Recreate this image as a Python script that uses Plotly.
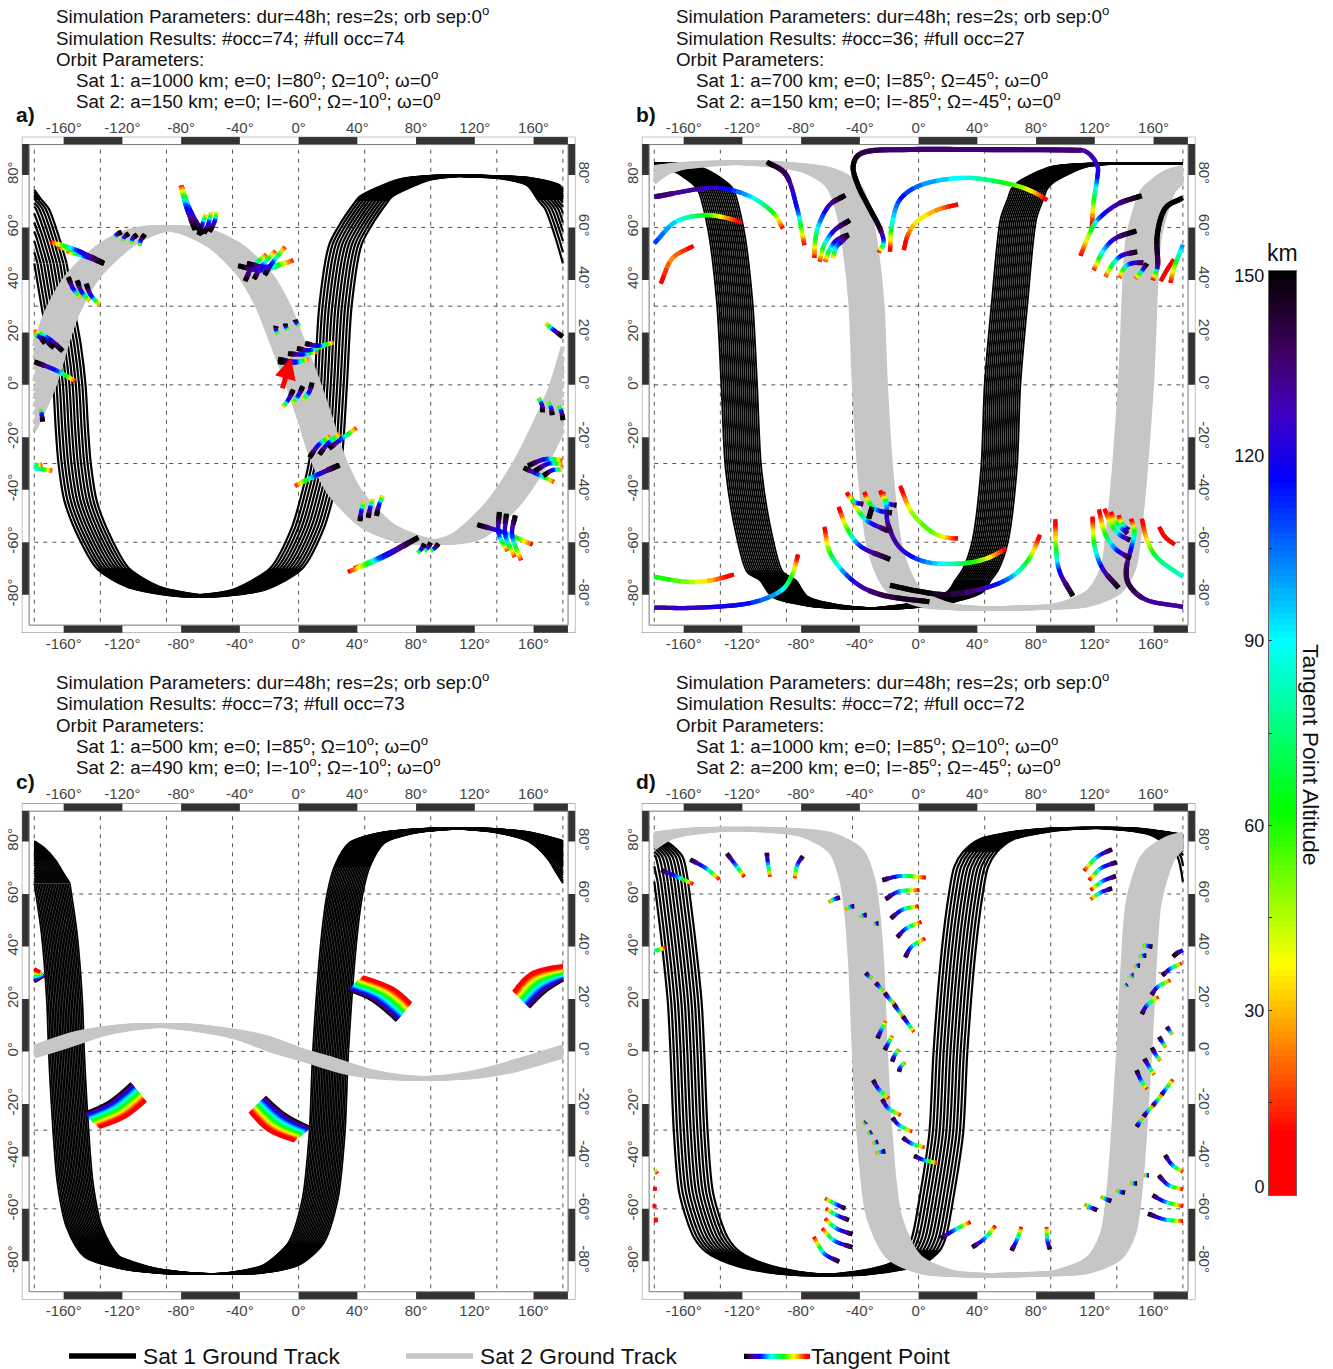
import numpy as np
import plotly.graph_objects as go

W, H = 1333, 1369
FONT = "Liberation Sans"

# ---------- altitude colour scale ----------
ALT_STOPS = [0, 10, 37.5, 62.5, 90, 116, 127, 137, 150]
ALT_R = [255, 255, 255, 0, 0, 0, 64, 64, 0]
ALT_G = [0, 0, 255, 255, 255, 0, 0, 0, 0]
ALT_B = [0, 0, 0, 0, 255, 255, 192, 96, 0]
CBAR_LEVELS = list(range(0, 151))
CBAR_TICKS = [1.4, 30, 60, 90, 120, 149.2]
CBAR_TEXT = ["0", "30", "60", "90", "120", "150"]
CBAR_MINOR = [15, 30, 45, 60, 75, 90, 105, 120, 135]
SWATCH_LEVELS = [150, 140, 130, 120, 110, 100, 90, 80, 70, 60, 50, 40, 30, 20, 10, 0]

# ---------- map furniture ----------
LON_TICKS = [-160, -120, -80, -40, 0, 40, 80, 120, 160]
LAT_TICKS = [-80, -60, -40, -20, 0, 20, 40, 60, 80]
LON_GRID = [-180, -135, -90, -45, 0, 45, 90, 135, 180]
LAT_GRID = [-60, -30, 0, 30, 60]
TOP_DARK = [(-160, -120), (-80, -40), (0, 40), (80, 120), (160, 183.4)]
SIDE_DARK = [(80, 91.8), (40, 60), (0, 20), (-40, -20), (-80, -60)]

# ---------- panel a ----------
A_SAT1_LON = [-180, -175.1, -170.3, -167.1, -165.4, -163.5, -159.3, -148.4, -137.4, -116.8, -92.4, -79.1, -63.2, -43.8, -19.5, -4.9, 3.6, 7.3, 10.9, 14.1, 20.7, 26.8, 38.9, 41.4, 68.1, 90, 99.7, 111.9, 134, 155.7, 163, 167.8, 175.1, 180]
A_SAT1_LAT = [46.3, 30, 15.1, 0, -16.6, -30.1, -44.6, -59.8, -70, -77, -79.9, -80.6, -79.9, -77.9, -70, -54.8, -38.2, -28.7, 0, 30, 53.2, 60, 70, 71.7, 78.3, 79.7, 79.9, 79.5, 79, 76.1, 70.5, 67.2, 55.8, 46.3]
A_SAT1_SHIFTS = [0, 2.2, 4.4, 6.6, 8.8, 11, 13.2, 15.4, 17.6, 19.8, 22]
A_SAT2_LON = [-180, -172.7, -158.1, -136.2, -119.2, -102.2, -80.3, -60.8, -41.4, -29.2, -19.5, -8.5, 0, 7.3, 19.5, 41.4, 63.2, 82.7, 102.2, 126.5, 145.9, 158.1, 170.3, 180]
A_SAT2_LAT = [16.4, 27.8, 41.8, 53.2, 58.1, 60, 58.1, 52.6, 41.8, 30, 16.4, 0, -14.1, -26.8, -40.8, -53.5, -58.8, -60.1, -57.9, -45.9, -30, -16.6, -1.4, 16.4]
A_RAMP = [150, 108, 0]
A_ARCS = [
    ([-132.5, -150.8, -169], [46.3, 51.3, 54.5]), ([-132.5, -147.2, -164.2], [46.3, 50.1, 52.7]),
    ([-132.5, -144.7, -158.1], [46.3, 48.8, 51]), ([-156.9, -153.6, -148.3], [41.2, 36.7, 33.3]),
    ([-150.8, -147.9, -142.3], [39.9, 35.5, 32]), ([-144.7, -141.5, -135.7], [38.6, 34.2, 30.6]),
    ([-120.4, -124, -125.2], [58.3, 57.3, 56.2]), ([-115.5, -118.7, -119.7], [57.7, 56.4, 54.9]),
    ([-109.9, -113.1, -113.8], [57.3, 55.8, 54]), ([-104.6, -107.5, -108.2], [57.4, 55.2, 53]),
    ([-70.5, -76.6, -80.3], [59, 67.9, 75.9]), ([-65.7, -74.2, -79.5], [57.7, 67.2, 75.5]),
    ([-65.7, -75.4, -79.8], [57.1, 67.2, 76.1]), ([-68.1, -65.7, -63.2], [57.1, 60.9, 64.9]),
    ([-64.4, -61.3, -59.6], [57.7, 61.5, 65.7]), ([-60.8, -57.2, -55.9], [58.3, 62.2, 65.7]),
    ([-36.5, -31.6, -21.9], [39.5, 44.9, 49.7]), ([-30.4, -25.5, -15.8], [40.3, 44.9, 51.1]),
    ([-23.1, -18.2, -9.2], [41.8, 46.3, 52.6]), ([-41.3, -24.3, -3.6], [45.4, 43.7, 47.5]),
    ([-35.3, -21.9, -6.1], [46.3, 45, 46.9]), ([-15.3, -15.6, -14.1], [22.5, 21.2, 19.4]),
    ([-9, -8.8, -7.3], [23.4, 22.2, 21]), ([-2.4, -1.7, 0.5], [24.9, 23.8, 22.5]),
    ([-14.1, -2.4, 6.8], [9.8, 8.8, 9.8]), ([-14.1, -2.4, 3.6], [8.8, 8.5, 9.4]),
    ([-7.3, 2.4, 12.2], [11.9, 11.6, 12.6]), ([-1.2, 7.3, 18.2], [13.9, 13.2, 15.1]),
    ([4.4, 13.4, 23.8], [15.8, 14.9, 16.1]), ([-3.6, -6.8, -10.7], [-1.8, -5.5, -8.4]),
    ([2.9, 0, -4.1], [-0.5, -3.9, -7.1]), ([9.2, 7.3, 2.9], [0.9, -2.7, -5.8]),
    ([7.3, 13.4, 21.4], [-27.8, -23, -19.6]), ([14.1, 19.9, 28], [-26.6, -22.4, -18.6]),
    ([20.7, 28, 39.4], [-24.3, -21.1, -16.4]), ([27.2, 12.2, -2.4], [-30.6, -34.4, -38.5]),
    ([28, 13.4, 2.4], [-30.6, -34.2, -37]), ([41.8, 42.6, 44.3], [-52, -48.4, -44.6]),
    ([47.4, 48.6, 50.6], [-50.7, -47.2, -43.6]), ([53, 54.7, 57.2], [-50, -45.9, -42.3]),
    ([81.5, 58.4, 33.6], [-58.2, -65.6, -71.3]), ([81.5, 55.9, 37.7], [-58.2, -65.6, -70]),
    ([85.8, 83.9, 81], [-60.5, -62.4, -64.1]), ([90, 88.3, 85.8], [-60.1, -61.8, -63.4]),
    ([95.3, 92.9, 90], [-60.5, -62.1, -63.4]), ([121.6, 138.6, 159.3], [-53.3, -56.1, -60.9]),
    ([136.7, 136.2, 142.3], [-48.4, -56.7, -63.3]), ([141.5, 140.8, 147.1], [-49.1, -57.3, -65.6]),
    ([147.6, 145.4, 151.5], [-49.7, -57.3, -66.9]), ([156.1, 167.8, 179.5], [-30.9, -28.3, -28.7]),
    ([160.5, 170.2, 179.5], [-32.9, -30, -30.4]), ([166.6, 172.7, 179.5], [-34.7, -32.5, -32.3]),
    ([153.2, 161.7, 173.9], [-31.6, -33.8, -37]), ([180, 173.9, 168.3], [18.3, 20.8, 23.4]),
    ([166.1, 165.9, 163.4], [-10.5, -7.8, -5]), ([172.7, 172.2, 170.2], [-11.6, -9.3, -6.5]),
    ([180, 179.2, 177], [-13.5, -10.5, -8]), ([-160.5, -170.2, -180], [12.8, 17.7, 20.5]),
    ([-166.6, -173.9, -180], [14.1, 17.7, 19.6]), ([-172.7, -176.3, -180], [15.8, 18.3, 18.9]),
    ([-180, -165.4, -152], [8.8, 5.6, 1.4]), ([-174.3, -174.8, -175.6], [-14.1, -11.6, -9.3]),
    ([-180, -173.9, -167.8], [-31.9, -32.2, -32.7], [90, 50, 0]),
    ([-180, -177.6, -174.6], [-30.4, -30.6, -30.4], [80, 40, 0]),
]
ARROW_TIP = (-5.1, 10.3)
ARROW_TAIL = (-11.3, -1.9)

# ---------- panel b ----------
B_SAT1_LON = [-180, -167.8, -156.9, -150.8, -143.5, -137.4, -134.3, -131.4, -124.1, -116.8, -108, -99.7, -75.4, -38.9, 0, 19.5, 25, 30.4, 36.5, 42.6, 45, 49.9, 55.9, 60.8, 63, 68.1, 90, 119.2, 150.8, 180]
B_SAT1_LAT = [84.2, 81.8, 78, 74.8, 59.6, 31.6, 0, -31.9, -57.3, -71.3, -74.5, -80.8, -84.2, -85.3, -82.7, -78.9, -74.5, -70, -59.8, -31.9, 0, 31.6, 63.4, 71, 74.5, 77.4, 83.1, 84.4, 84.4, 84.2]
B_SAT1_SHIFTS = [0, 1.35, 2.7, 4.05, 5.4, 6.75, 8.1, 9.45, 10.8, 12.15, 13.5, 14.85, 16.2, 17.55, 18.9, 20.25, 21.6, 22.95, 24.3]
B_SAT2_LON = [-180, -153.2, -116.8, -80.3, -63.2, -55.9, -51.1, -47.4, -45, -41.4, -34.1, -21.9, 0, 29.2, 63.2, 92.4, 114.3, 124.1, 128.9, 136.2, 141.1, 145.9, 150.8, 155.7, 167.8, 180]
B_SAT2_LAT = [83.1, 84.5, 84.4, 81.8, 76.1, 65.9, 50.7, 31.6, 0, -31.9, -63.7, -78.3, -84, -85.3, -85, -84, -78.9, -70, -51, 0, 54.5, 65.9, 73.6, 76.5, 81.2, 83.1]
B_ARCS = [
    ([-180, -141, -116.7, -99.7, -92.4], [71.7, 75.1, 72.3, 66, 59.6], [135, 125, 95, 60, 5]),
    ([-180, -165.4, -146, -131.3, -120.4], [53.9, 62.2, 64.7, 63.7, 61.9], [110, 90, 60, 25, 0]),
    ([-153.2, -167.8, -175.6], [53, 48.2, 38.6], [8, 25, 3]),
    ([-103.4, -90, -82.7, -80.3, -77.8], [85, 79.9, 67.2, 60.9, 53.3], [150, 135, 110, 60, 0]),
    ([-49.9, -60.8, -68.1, -70.5, -71], [72.3, 68.5, 60.9, 54.5, 48.4], [150, 125, 90, 50, 0]),
    ([-46.7, -57.2, -64.4, -67.4], [62.8, 59, 53.3, 46.9], [150, 120, 70, 0]),
    ([-47.4, -55.9, -60.8, -63.7], [57.3, 55.2, 51.3, 46.9], [145, 120, 70, 0]),
    ([-48.2, -51.1, -55.9, -58.4], [57.1, 55.2, 52.6, 48.4], [135, 125, 90, 0]),
    ([118, 119.2, 121.6, 121.6, 114.3, 102.1, 41.3, -7.3, -36.5, -44.5, -41.3, -34, -26.8, -23.8, -27.2],
     [60.2, 69.8, 78.7, 83.8, 88.8, 89.5, 89.7, 89.7, 88.8, 83.8, 76.1, 67.9, 60.2, 54.5, 50.5],
     [0, 60, 115, 125, 130, 135, 135, 135, 140, 150, 150, 150, 145, 100, 0]),
    ([-19.5, -18.2, -12.2, 4.9, 34, 63.2, 77.8, 87.6], [50.7, 60.9, 71, 76.8, 78.9, 76.4, 73.6, 70.4], [0, 85, 115, 100, 85, 55, 30, 0]),
    ([-10.2, -7.3, -1.2, 12.2, 26.8], [51.3, 57.1, 62.2, 66.6, 68.8], [0, 20, 38, 25, 0]),
    ([152, 136.2, 124, 118, 110.2], [72.1, 69.1, 64.1, 59.6, 49.2], [150, 130, 110, 60, 0]),
    ([148.4, 133.8, 125.3, 119.2], [58.7, 55.8, 50.7, 43.7], [150, 125, 85, 0]),
    ([148.9, 138.6, 132.5, 127.2], [50.7, 49.4, 46.3, 41.2], [145, 115, 70, 0]),
    ([153.2, 144.7, 139.8, 136.7], [46.6, 46.3, 44.4, 40.8], [140, 110, 60, 0]),
    ([155.6, 153.2, 150.8, 147.4], [46.3, 44.4, 42.5, 40.5], [145, 110, 50, 0]),
    ([180, 167.8, 162.5, 162.9, 161.7, 159.3], [71.3, 67.2, 57.1, 46.3, 43.1, 39.9], [150, 150, 150, 135, 60, 0]),
    ([173.9, 169, 164.9], [47.9, 43.7, 39.5], [5, 0, 0]),
    ([180, 176.3, 173.9, 171.5], [53.5, 48.2, 44.4, 38.9], [100, 70, 40, 0]),
    ([-49.1, -46.2, -42.6, -37.7], [-41, -43.3, -44.9, -45.5], [0, 50, 110, 150]),
    ([-46.2, -41.3, -34, -20.7], [-42.7, -47.8, -52.2, -55.7], [0, 50, 110, 150]),
    ([-37, -34, -27.9, -18.2], [-40.8, -44.6, -47.8, -48.8], [0, 60, 110, 150]),
    ([-31.6, -34], [-46.5, -51], [150, 150]),
    ([-26.3, -23.1, -19.5, -15.1], [-40.2, -44, -45.5, -45.9], [0, 60, 120, 150]),
    ([-24.3, -21.9, -20.7, -12.2, 4.9, 29.2, 46.2, 59.6], [-40.8, -45.9, -53.5, -62.4, -67.5, -68.1, -66.2, -62.4], [0, 100, 135, 125, 100, 70, 40, 0]),
    ([-12.6, -4.9, 7.3, 17, 26.8], [-38.5, -48.4, -55.4, -58, -58.6], [0, 50, 55, 35, 0]),
    ([-54.5, -48.6, -38.9, -19.5], [-46.5, -54.8, -61.8, -66.5], [0, 60, 120, 150]),
    ([-64.2, -59.6, -43.8, -24.3, 7.3], [-54.1, -64.9, -75.1, -80.2, -82.7], [0, 70, 125, 140, 150]),
    ([82.7, 75.4, 63.2, 43.8, 19.5, 0, -19.5], [-57.1, -66.2, -73.2, -77.7, -79.9, -78.7, -76.4], [0, 60, 100, 130, 145, 150, 150]),
    ([-82, -86.3, -94.8, -116.7, -153.2, -180], [-64.6, -72.6, -78.9, -83.4, -85, -84.9], [0, 60, 95, 115, 125, 130]),
    ([-125.7, -141, -158.1, -180], [-72.3, -74.5, -75.1, -73.2], [0, 30, 50, 65]),
    ([93.1, 93.6, 96.1, 105.1], [-51.2, -62.4, -71.3, -80.5], [0, 65, 120, 150]),
    ([118.4, 119.7, 125.2, 136.2], [-50.1, -61.1, -70, -77.4], [0, 75, 125, 150]),
    ([122.8, 126.5, 133.8, 144.2], [-47.4, -56.1, -62.4, -66.2], [0, 60, 110, 150]),
    ([126.5, 131.4, 137.4, 144], [-47.2, -53.5, -57.3, -59.2], [0, 60, 110, 150]),
    ([130.8, 135, 142.3], [-48.4, -52.9, -56.7], [0, 70, 150]),
    ([136.2, 138.6, 143], [-49.7, -52.9, -55.4], [0, 70, 150]),
    ([144.7, 147.1, 144.7, 141.5, 143.5, 155.6, 180], [-51, -56, -62.4, -70, -76.4, -82.1, -84.6], [0, 70, 120, 140, 140, 130, 130]),
    ([152, 155.6, 162.9, 180], [-51, -59.2, -66.2, -73.2], [0, 40, 75, 85]),
    ([163.7, 167.8, 174.4], [-54.1, -58, -60.9], [0, 5, 0]),
]

# ---------- panel c ----------
C_SAT1_LON = [-180, -175.1, -171.5, -170.2, -167.8, -164.2, -158.1, -145.9, -121.6, -92.4, -73, -48.6, -24.3, -7.3, 2.4, 7.3, 9.7, 15.8, 19.5, 24.3, 34, 53.5, 90, 102.1, 133.8, 155.6, 163, 170.2, 175.1, 180]
C_SAT1_LAT = [64.1, 45, 19.6, 0, -24.9, -50.3, -66.9, -78.3, -82.7, -84.6, -84.9, -84.4, -81.5, -73.2, -56.7, -31.3, 0, 45, 60.2, 70.4, 79.3, 83.1, 85, 85, 83.5, 80.3, 77.4, 73, 68.5, 64.1]
C_SAT1_SHIFTS = [0, 1.1, 2.2, 3.3, 4.4, 5.5, 6.6, 7.7, 8.8, 9.9, 11, 12.1, 13.2, 14.3, 15.4, 16.5, 17.6, 18.7, 19.8, 20.9, 22, 23.1, 24.2]
C_SAT2_LON = [-180, -153.2, -128.9, -103.4, -75.4, -43.8, -19.5, 0, 29.2, 53.5, 76.6, 102.1, 126.5, 150.8, 180]
C_SAT2_LAT = [2, 6.9, 9.2, 10, 8.6, 5.3, 0.3, -2.8, -7.8, -9.9, -10.3, -9.4, -6.9, -3, 2]
# (black edge lon, black edge lat, red edge lon, red edge lat)
C_RIBBONS = [
    ([33.6, 49.9, 66.9], [23.4, 19.6, 11.7], [43.8, 64.4, 76.6], [28.5, 24, 18.3]),
    ([156.9, 167.8, 180], [16.8, 22.8, 27.2], [146.3, 158.1, 180], [22.8, 29.7, 32.7]),
    ([-180, -176.6, -173.2], [26.6, 27.7, 28.9], [-180, -178.2, -176.3], [31.6, 31, 30.4]),
    ([-146, -128.9, -113.8], [-23.6, -19.2, -12.2], [-135.7, -117.9, -104.1], [-29, -24.9, -18.8]),
    ([-22.9, -8.5, 7.8], [-17.3, -24.3, -29], [-33.3, -20.7, -2.9], [-23, -30, -34.1]),
]
RIBBON_LEVELS = [150, 144, 138, 132, 126, 120, 114, 108, 102, 96, 90, 84, 78, 72, 66, 60, 54, 48, 42, 36, 30, 24, 18, 12, 6, 0]

# ---------- panel d ----------
D_SAT1_LON = [-180, -175.1, -170.7, -169, -166.6, -162.9, -153.2, -144.7, -128.9, -104.6, -73, -43.8, -19.5, -8.5, -4.4, 1.2, 7.3, 10.2, 15.8, 20.7, 24.3, 30.4, 41.3, 65.7, 90, 126.5, 158.1, 170.2, 176.3, 180]
D_SAT1_LAT = [64.7, 42.5, 18.3, 0, -31.3, -54.1, -70.7, -76.4, -80.8, -84, -85.3, -84, -80.8, -75.8, -70.7, -54.1, -31.3, 0, 38.6, 60.2, 70.4, 76.1, 80.8, 83.8, 85, 85, 82.5, 78, 74.2, 64.7]
D_SAT1_SHIFTS = [0, 2.3, 4.6, 6.9, 9.2, 11.5, 13.8, 16.1, 18.4, 20.7, 23]
D_SAT2_LON = [-180, -153.2, -116.8, -80.3, -60.8, -53.5, -49.9, -47.4, -45, -41.8, -35.3, -21.9, 0, 29.2, 63.2, 92.4, 114.3, 124, 128.9, 135, 141, 145.9, 150.8, 155.6, 167.8, 180]
D_SAT2_LAT = [83.1, 84.6, 84.6, 82.5, 76.1, 65.3, 51.3, 32.3, 0, -31.3, -63, -78.3, -84, -85.3, -85, -84, -78.9, -69.4, -50.3, 0, 55.2, 66.6, 73.6, 76.8, 81.2, 83.1]
SAT2_SHIFTS = [1, 3.4, 5.8, 8.2, 10.6, 13, 15.4, 17.8, 20.2, 22.6]
D_RAMP = [145, 100, 0]
D_ARCS = [
    ([-175.4, -164.4, -153.5], [69.1, 66.6, 63.8]), ([-155.6, -144.7, -135.7], [73.2, 69.8, 65.6]),
    ([-130.6, -124.5, -118.7], [75.5, 71, 66.6]), ([-103.4, -102.6, -101.2], [75.8, 71.7, 66.6]),
    ([-78.8, -82.7, -84.4], [74.5, 71, 66]), ([-24.8, -12.2, 4.9], [65.3, 66.9, 66.3]),
    ([-22.6, -13.4, 0.5], [58, 61, 61.5]), ([-19, -10.9, 0], [50.7, 54.1, 55.4]),
    ([-14.6, -8.5, 1.9], [43.5, 46.9, 49.4]), ([-9.2, -4.9, 4.4], [35.8, 39.9, 43.1]),
    ([-53.5, -57.2, -61.3], [58.7, 58.1, 56.9]), ([-43.8, -46.2, -49.9], [55.4, 55.2, 54.1]),
    ([-35.3, -37.7, -40.1], [52, 51.9, 51.3]), ([-27.2, -29.2, -30.4], [48.8, 48.7, 48.2]),
    ([-180, -176.1, -172.2], [38.4, 38.9, 39.7], [85, 45, 0]),
    ([-36, -34, -31.6], [30, 28.7, 27.8]), ([-29.2, -26.8, -23.8], [26.2, 24.7, 23.1]),
    ([-23.1, -20.2, -16.5], [22.4, 20.2, 18.3]), ([-17, -14.1, -10.9], [18.3, 15.8, 13.5]),
    ([-10.9, -7.3, -3.2], [13.5, 10.7, 7.5]), ([-28, -25.5, -22.4], [5, 8.1, 11.6]),
    ([-23.1, -20.7, -17.8], [0.5, 3.1, 6]), ([-18, -16.3, -13.4], [-3.9, -1.4, 0.9]),
    ([-13.4, -12.2, -9], [-7.8, -5.8, -4.2]), ([-31.1, -26.8, -20.2], [-10.9, -14.7, -17.9]),
    ([-24.8, -20.7, -12.2], [-18.2, -21.7, -24.3]), ([-17.9, -13.4, -4.4], [-25.2, -28.1, -30.6]),
    ([-10.9, -4.9, 4.1], [-32.8, -35.1, -36.6]), ([-3.2, 3.6, 12.6], [-39.8, -41.4, -42.5]),
    ([-35.8, -36.5, -37.7], [-26.8, -27.2, -27.7]), ([-31.9, -33, -34.8], [-30.6, -31, -31.3]),
    ([-27.5, -29.2, -31.6], [-34.4, -34.7, -35.1]), ([-22.6, -25.5, -29.2], [-38, -38.3, -38.6]),
    ([-179.5, -178.7, -177.9], [-45, -45.9, -46.5], [50, 25, 0]),
    ([-179.5, -179.5, -179.7], [-51.6, -52.2, -53.1], [5, 0, 0]),
    ([-179.7, -180, -179.7], [-58.2, -59, -59.7], [5, 0, 0]),
    ([-179, -179, -178.8], [-63.3, -64.3, -65.1], [5, 0, 0]),
    ([-49.9, -56.4, -63.7], [-59.9, -58.2, -56]), ([-47.4, -55.9, -63.2], [-64.3, -62.4, -59.9]),
    ([-45, -55.9, -63.7], [-69.7, -67.5, -63.7]), ([-45, -57.2, -65.7], [-74.7, -72.2, -67.5]),
    ([-54, -64.4, -71.3], [-80.2, -77, -70.7]), ([15.1, 24.3, 35.3], [-71.3, -68.1, -65]),
    ([36.5, 45, 52.3], [-74.7, -71.3, -66.5]), ([63.2, 66.9, 70], [-76, -71.9, -66.9]),
    ([89.5, 87.6, 87.1], [-75.5, -71.9, -66.9]), ([131.8, 121.6, 112.6], [77.1, 74.2, 68.9]),
    ([135, 124, 116], [72.2, 69.8, 65.3]), ([134.5, 125.2, 117.2], [66.9, 64.9, 61.5]),
    ([131.8, 124, 117.2], [62.2, 60.6, 58]), ([159.3, 155.6, 152.7], [39.9, 40.3, 40.4]),
    ([155.1, 152.7, 150.2], [36.5, 36.5, 36.1]), ([150.8, 148.8, 147.1], [32.7, 32.7, 32]),
    ([146.4, 145.2, 144], [29.1, 29, 28.2]), ([142.3, 141.5, 140.6], [25.5, 25.2, 24.7]),
    ([173.2, 176.3, 180], [36.1, 37.6, 38.6], [150, 135, 110]),
    ([165.9, 171.5, 179.2], [28.9, 31.6, 33.6]), ([158.6, 162.9, 171.5], [21.5, 24.7, 27.2]),
    ([152, 155.6, 163.4], [14.2, 17.7, 20.8]), ([169, 170.9, 172.7], [9.4, 7.9, 6.5]),
    ([163.7, 166.1, 168.3], [5.6, 3.4, 1.5]), ([158.8, 161.7, 164.6], [1.5, -1.4, -3.6]),
    ([153.7, 156.9, 160.5], [-2.7, -5.8, -8.9]), ([148.4, 151.3, 155.6], [-7.1, -10.9, -14.4]),
    ([148.4, 150.3, 152.5], [-28.7, -27.2, -25.5]), ([153.2, 155.6, 159.5], [-24.9, -23, -20.8]),
    ([159.3, 161.7, 165.4], [-20.8, -19.2, -16.6]), ([165.4, 167.8, 173.2], [-16.6, -14.7, -10.7]),
    ([167.8, 172.7, 180], [-39.5, -43.3, -45.9]), ([163.4, 170.2, 180], [-47.2, -51, -52.6]),
    ([159.3, 167.8, 180], [-54.8, -57.3, -59]), ([156.1, 167.8, 180], [-61.8, -64.1, -64.6]),
    ([156.9, 155.6, 153.7], [-47.2, -47.2, -47.2]), ([148.8, 146.6, 144], [-50.3, -50.3, -50.3]),
    ([140.6, 137.4, 134.5], [-53.9, -53.5, -52.9]), ([131.3, 127.7, 124], [-57.1, -56.3, -55.4]),
    ([121.6, 117.2, 113], [-60.5, -59.5, -58.3]),
]

# ---------- texts ----------
D = "<sup>o</sup>"
PANEL_TEXT = {
    "a": ["Simulation Parameters: dur=48h; res=2s; orb sep:0" + D, "Simulation Results: #occ=74; #full occ=74", "Orbit Parameters:",
          f"Sat 1: a=1000 km; e=0; I=80{D}; Ω=10{D}; ω=0{D}", f"Sat 2: a=150 km; e=0; I=-60{D}; Ω=-10{D}; ω=0{D}"],
    "b": ["Simulation Parameters: dur=48h; res=2s; orb sep:0" + D, "Simulation Results: #occ=36; #full occ=27", "Orbit Parameters:",
          f"Sat 1: a=700 km; e=0; I=85{D}; Ω=45{D}; ω=0{D}", f"Sat 2: a=150 km; e=0; I=-85{D}; Ω=-45{D}; ω=0{D}"],
    "c": ["Simulation Parameters: dur=48h; res=2s; orb sep:0" + D, "Simulation Results: #occ=73; #full occ=73", "Orbit Parameters:",
          f"Sat 1: a=500 km; e=0; I=85{D}; Ω=10{D}; ω=0{D}", f"Sat 2: a=490 km; e=0; I=-10{D}; Ω=-10{D}; ω=0{D}"],
    "d": ["Simulation Parameters: dur=48h; res=2s; orb sep:0" + D, "Simulation Results: #occ=72; #full occ=72", "Orbit Parameters:",
          f"Sat 1: a=1000 km; e=0; I=85{D}; Ω=10{D}; ω=0{D}", f"Sat 2: a=200 km; e=0; I=-85{D}; Ω=-45{D}; ω=0{D}"],
}
LINE_Y = [15, 38, 59, 79.3, 100.3]
LEGEND_LABELS = ["Sat 1 Ground Track", "Sat 2 Ground Track", "Tangent Point"]

# ---------- layout geometry (pixels) ----------
PANELS = {
    "a": dict(x0=21.8, x1=575.4, y0=136.7, y1=633.0, n=1),
    "b": dict(x0=641.8, x1=1195.4, y0=136.7, y1=633.0, n=2),
    "c": dict(x0=21.8, x1=575.4, y0=803.3, y1=1299.6, n=3),
    "d": dict(x0=641.8, x1=1195.4, y0=803.3, y1=1299.6, n=4),
}
XR = [-188.5, 188.5]
YR = [-94.6, 94.6]


def px(x):
    return x / W


def py(y):
    return 1 - y / H


def alt_rgb(a):
    return "rgb(%d,%d,%d)" % (np.interp(a, ALT_STOPS, ALT_R), np.interp(a, ALT_STOPS, ALT_G), np.interp(a, ALT_STOPS, ALT_B))


ALT_SCALE = [[s / 150, alt_rgb(s)] for s in ALT_STOPS]


def clip_segments(lon, lat):
    """Split a longitude-shifted track at the 180 degree map edge."""
    segs, cur_x, cur_y = [], [lon[0]], [lat[0]]
    for i in range(1, len(lon)):
        if lon[i - 1] <= 180 < lon[i]:
            f = (180 - lon[i - 1]) / (lon[i] - lon[i - 1])
            edge = lat[i - 1] + f * (lat[i] - lat[i - 1])
            cur_x.append(180); cur_y.append(edge)
            segs.append((cur_x, cur_y))
            cur_x, cur_y = [-180], [edge]
        cur_x.append(lon[i] - 360 if lon[i] > 180 else lon[i])
        cur_y.append(lat[i])
    segs.append((cur_x, cur_y))
    return segs


def track_xy(lon, lat, shifts, cap=None):
    xs, ys = [], []
    for s in shifts:
        shifted = [v + s for v in lon]
        for sx, sy in clip_segments(shifted, lat):
            if cap is None:
                xs += sx + [None]; ys += sy + [None]
            else:
                run_x, run_y = [], []
                for a, b in zip(sx, sy):
                    if abs(b) >= cap:
                        run_x.append(a); run_y.append(b)
                    else:
                        if len(run_x) > 1:
                            xs += run_x + [None]; ys += run_y + [None]
                        run_x, run_y = [], []
                if len(run_x) > 1:
                    xs += run_x + [None]; ys += run_y + [None]
    return xs, ys


def smooth(vals, n):
    """Catmull-Rom pass through the read points, only to give the colour gradient room."""
    v = np.asarray(vals, float)
    if len(v) == 2:
        return np.linspace(v[0], v[1], n + 1)
    p = np.concatenate([[2 * v[0] - v[1]], v, [2 * v[-1] - v[-2]]])
    out = []
    for i in range(1, len(p) - 2):
        t = np.linspace(0, 1, n, endpoint=False)
        out.append(0.5 * (2 * p[i] + (p[i + 1] - p[i - 1]) * t + (2 * p[i - 1] - 5 * p[i] + 4 * p[i + 1] - p[i + 2]) * t ** 2
                          + (3 * p[i] - p[i - 1] - 3 * p[i + 1] + p[i + 2]) * t ** 3))
    out.append(v[-1:])
    return np.concatenate(out)


def add_arcs(fig, arcs, ramp, xa, ya, width, dark_on_top=True):
    bins = {}
    step = 5
    for arc in arcs:
        lons, lats = arc[0], arc[1]
        alts = arc[2] if len(arc) > 2 else ramp
        span = sum(np.hypot((lons[i + 1] - lons[i]) * 1.47, (lats[i + 1] - lats[i]) * 2.62) for i in range(len(lons) - 1))
        n = int(max(4, span / (len(lons) - 1) / 1.6))
        sx, sy = smooth(lons, n), smooth(lats, n)
        t = np.arange(len(alts)) * n
        sa = np.interp(np.arange(len(sx)), t, alts)
        sx = np.clip(sx, -180, 180)
        for i in range(len(sx) - 1):
            k = int(round(sa[i] / step)) * step
            j = min(i + 2, len(sx) - 1)
            b = bins.setdefault(k, ([], []))
            b[0].extend([sx[i], sx[i + 1], sx[j], None])
            b[1].extend([sy[i], sy[i + 1], sy[j], None])
    for k in sorted(bins, reverse=not dark_on_top):
        w = width + (0.8 if k >= 135 else 0)
        fig.add_trace(go.Scatter(x=bins[k][0], y=bins[k][1], mode="lines", hoverinfo="skip", showlegend=False,
                                 line=dict(color=alt_rgb(k), width=w), xaxis=xa, yaxis=ya))


def add_ribbons(fig, ribbons, xa, ya):
    for lvl in RIBBON_LEVELS:
        f = 1 - lvl / 150
        xs, ys = [], []
        for bx, by, rx, ry in ribbons:
            xs += [a + f * (b - a) for a, b in zip(bx, rx)] + [None]
            ys += [a + f * (b - a) for a, b in zip(by, ry)] + [None]
        fig.add_trace(go.Scatter(x=xs, y=ys, mode="lines", hoverinfo="skip", showlegend=False,
                                 line=dict(color=alt_rgb(lvl), width=3.2, shape="spline"), xaxis=xa, yaxis=ya))


TRACKS = {
    "a": (A_SAT1_LON, A_SAT1_LAT, A_SAT1_SHIFTS, 2.2, 70, A_SAT2_LON, A_SAT2_LAT),
    "b": (B_SAT1_LON, B_SAT1_LAT, B_SAT1_SHIFTS, 1.85, 74, B_SAT2_LON, B_SAT2_LAT),
    "c": (C_SAT1_LON, C_SAT1_LAT, C_SAT1_SHIFTS, 1.75, 70, C_SAT2_LON, C_SAT2_LAT),
    "d": (D_SAT1_LON, D_SAT1_LAT, D_SAT1_SHIFTS, 2.2, 75.5, D_SAT2_LON, D_SAT2_LAT),
}

fig = go.Figure()
shapes, annos, axes = [], [], {}

for name, P in PANELS.items():
    n = P["n"]
    xa, ya = f"x{n}", f"y{n}"
    xt, yt = f"x{n + 4}", f"y{n + 4}"
    dom_x = [px(P["x0"]), px(P["x1"])]
    dom_y = [py(P["y1"]), py(P["y0"])]
    tickfont = dict(family=FONT, size=15, color="#444444")
    common = dict(range=XR, domain=dom_x, tickvals=LON_TICKS, ticktext=[f"{v}°" for v in LON_TICKS], ticks="", automargin=False,
                  showgrid=False, zeroline=False, showline=False, tickfont=tickfont, tickangle=0)
    commony = dict(range=YR, domain=dom_y, tickvals=LAT_TICKS, ticktext=[f"{v}°" for v in LAT_TICKS], ticks="", automargin=False,
                   showgrid=False, zeroline=False, showline=False, tickfont=tickfont)
    axes[f"xaxis{n}"] = dict(common, anchor=ya, side="bottom")
    axes[f"yaxis{n}"] = dict(commony, anchor=xa, side="left", tickangle=-90)
    axes[f"xaxis{n + 4}"] = dict(common, anchor=yt, side="top", overlaying=xa)
    axes[f"yaxis{n + 4}"] = dict(commony, anchor=xt, side="right", overlaying=ya, tickangle=90)

    ref = dict(xref=xa, yref=ya)
    for lon_ in LON_GRID:
        shapes.append(dict(type="line", x0=lon_, x1=lon_, y0=-90.3, y1=89.7, layer="below", line=dict(color="#555555", width=1, dash="4px,5px"), **ref))
    for lat_ in LAT_GRID:
        shapes.append(dict(type="line", x0=-180, x1=180, y0=lat_, y1=lat_, layer="below", line=dict(color="#555555", width=1, dash="4px,5px"), **ref))
    for a, b in TOP_DARK:
        for y0, y1 in ((YR[1] - 3, YR[1]), (YR[0], YR[0] + 3)):
            shapes.append(dict(type="rect", x0=a, x1=b, y0=y0, y1=y1, fillcolor="#333333", line_width=0, **ref))
    for a, b in SIDE_DARK:
        for x0, x1 in ((XR[0], XR[0] + 5), (XR[1] - 5, XR[1])):
            shapes.append(dict(type="rect", x0=x0, x1=x1, y0=a, y1=b, fillcolor="#333333", line_width=0, **ref))
    for x0, x1, y0, y1 in ((XR[0], XR[1], YR[0], YR[1]), (XR[0] + 5, XR[1] - 5, YR[0] + 3, YR[1] - 3)):
        shapes.append(dict(type="rect", x0=x0, x1=x1, y0=y0, y1=y1, line=dict(color="#777777", width=1), **ref))

    lon1, lat1, shifts, w1, cap, lon2, lat2 = TRACKS[name]
    x1s, y1s = track_xy(lon1, lat1, shifts)
    fig.add_trace(go.Scatter(x=x1s, y=y1s, mode="lines", hoverinfo="skip", showlegend=False,
                             line=dict(color="#000000", width=w1, shape="spline", smoothing=0.8), xaxis=xa, yaxis=ya))
    half = (shifts[1] - shifts[0]) / 2
    x1c, y1c = track_xy(lon1, lat1, [s + half for s in shifts[:-1]], cap=cap)
    fig.add_trace(go.Scatter(x=x1c, y=y1c, mode="lines", hoverinfo="skip", showlegend=False,
                             line=dict(color="#000000", width=max(w1, 1.6), shape="spline", smoothing=0.8), xaxis=xa, yaxis=ya))
    x2s, y2s = track_xy(lon2, lat2, SAT2_SHIFTS)
    fig.add_trace(go.Scatter(x=x2s, y=y2s, mode="lines", hoverinfo="skip", showlegend=False,
                             line=dict(color="#c6c6c6", width=4.4, shape="spline", smoothing=0.8), xaxis=xa, yaxis=ya))
    if name == "a":
        add_arcs(fig, A_ARCS, A_RAMP, xa, ya, 4.2)
    elif name == "b":
        add_arcs(fig, B_ARCS, A_RAMP, xa, ya, 4.3)
    elif name == "c":
        add_ribbons(fig, C_RIBBONS, xa, ya)
    else:
        add_arcs(fig, D_ARCS, D_RAMP, xa, ya, 3.8, dark_on_top=False)
    # overlay axes carry the top and right labels
    fig.add_trace(go.Scatter(x=[None], y=[None], mode="lines", showlegend=False, hoverinfo="skip", xaxis=xt, yaxis=yt))

    # header text
    tx = 54 if name in "ac" else 674
    dy = 0 if name in "ab" else 666
    for i, line in enumerate(PANEL_TEXT[name]):
        annos.append(dict(xref="paper", yref="paper", x=px(tx + (20 if i >= 3 else 0)), y=py(LINE_Y[i] + dy), text=line, showarrow=False,
                          xanchor="left", yanchor="middle", font=dict(family=FONT, size=18.8, color="#111111")))
    annos.append(dict(xref="paper", yref="paper", x=px(14 if name in "ac" else 634), y=py(115 if name in "ab" else 781), text=f"<b>{name})</b>",
                      showarrow=False, xanchor="left", yanchor="middle", font=dict(family=FONT, size=21, color="#111111")))

# red arrow on panel a
annos.append(dict(xref="x1", yref="y1", axref="x1", ayref="y1", x=ARROW_TIP[0], y=ARROW_TIP[1], ax=ARROW_TAIL[0], ay=ARROW_TAIL[1], text="",
                  showarrow=True, arrowcolor="#ff0000", arrowwidth=5, arrowhead=2, arrowsize=0.85))

# colour bar
fig.add_trace(go.Heatmap(z=[[v] for v in CBAR_LEVELS], y=CBAR_LEVELS, x=[0], zmin=0, zmax=150, colorscale=ALT_SCALE, showscale=False,
                         hoverinfo="skip", xaxis="x9", yaxis="y9"))
axes["xaxis9"] = dict(domain=[px(1269), px(1296)], anchor="y9", range=[-0.5, 0.5], showticklabels=False, ticks="", showgrid=False, zeroline=False,
                      showline=True, mirror=True, linecolor="#666666", linewidth=1, automargin=False)
axes["yaxis9"] = dict(domain=[py(1195), py(271)], anchor="x9", range=[0, 150], tickvals=CBAR_TICKS, ticktext=CBAR_TEXT, ticks="", side="left",
                      tickfont=dict(family=FONT, size=18, color="#111111"), showgrid=False, zeroline=False, showline=True, mirror=True,
                      linecolor="#666666", linewidth=1, automargin=False,
                      minor=dict(tickvals=CBAR_MINOR, ticks="inside", ticklen=3, tickcolor="#222222", showgrid=False))
annos.append(dict(xref="paper", yref="paper", x=px(1282), y=py(253), text="km", showarrow=False, xanchor="center", yanchor="middle",
                  font=dict(family=FONT, size=23, color="#111111")))
annos.append(dict(xref="paper", yref="paper", x=px(1311), y=py(754), text="Tangent Point Altitude", showarrow=False, textangle=90,
                  xanchor="center", yanchor="middle", font=dict(family=FONT, size=22.9, color="#111111")))

# legend
for x0, x1, col in ((69, 136, "#000000"), (406, 473, "#c6c6c6")):
    shapes.append(dict(type="line", xref="paper", yref="paper", x0=px(x0), x1=px(x1), y0=py(1356), y1=py(1356), line=dict(color=col, width=5.5)))
for x, label in zip((141, 478, 809), LEGEND_LABELS):
    annos.append(dict(xref="paper", yref="paper", x=px(x), y=py(1356), text=label, showarrow=False, xanchor="left", yanchor="middle",
                      font=dict(family=FONT, size=22.7, color="#111111")))
fig.add_trace(go.Heatmap(z=[SWATCH_LEVELS], x=list(range(len(SWATCH_LEVELS))), y=[0], zmin=0, zmax=150, colorscale=ALT_SCALE, showscale=False,
                         hoverinfo="skip", zsmooth="best", xaxis="x10", yaxis="y10"))
axes["xaxis10"] = dict(domain=[px(744), px(810)], anchor="y10", visible=False, range=[0, len(SWATCH_LEVELS) - 1], automargin=False)
axes["yaxis10"] = dict(domain=[py(1359), py(1353.5)], anchor="x10", visible=False, range=[-0.5, 0.5], automargin=False)

fig.update_layout(width=W, height=H, margin=dict(l=0, r=0, t=0, b=0), paper_bgcolor="white", plot_bgcolor="rgba(0,0,0,0)",
                  showlegend=False, shapes=shapes, annotations=annos, autosize=False, **axes)
fig.write_html("out.html", config={"displayModeBar": False}, post_script="document.body.style.margin='0';")
